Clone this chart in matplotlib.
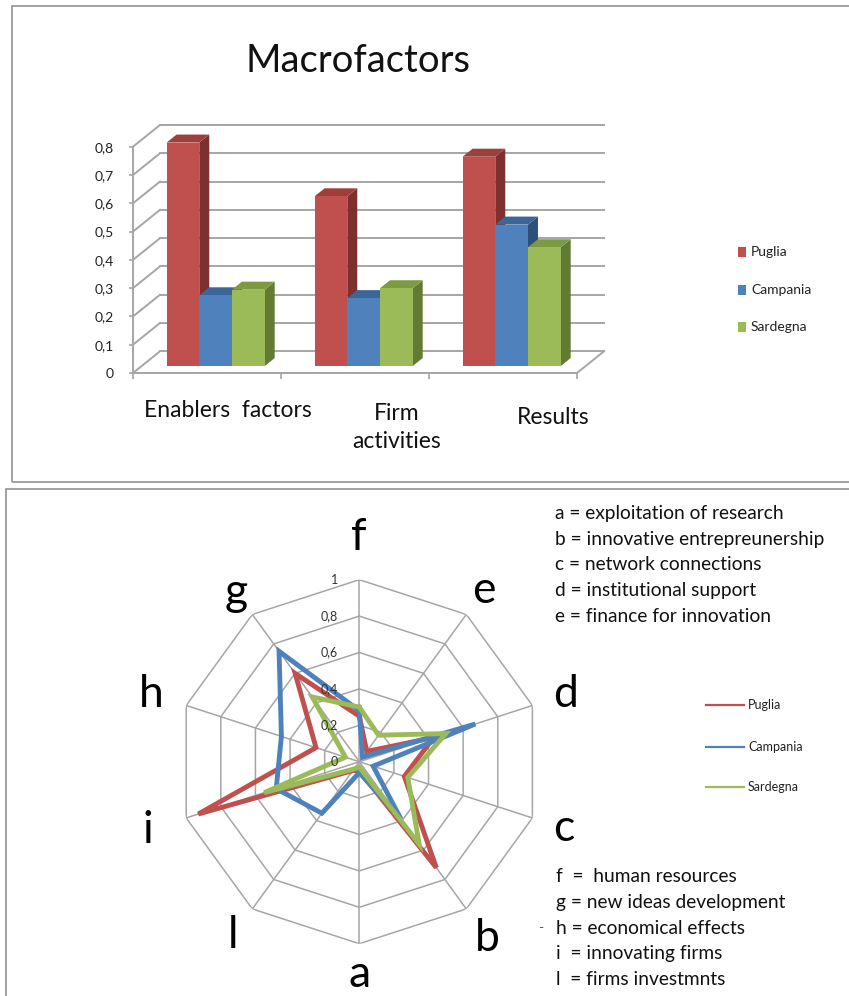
import numpy as np
import matplotlib.pyplot as plt
from matplotlib.patches import Polygon, Rectangle

plt.rcParams['font.family'] = ['Lato', 'DejaVu Sans']

W, H = 849, 996

# bar chart data
groups = ['Enablers  factors', 'Firm\nactivities', 'Results']
group_label_x = [0.64, 1.78, 2.84]
group_label_y = [-0.095, -0.105, -0.12]
regions = ['Puglia', 'Campania', 'Sardegna']
puglia_bar = [0.79, 0.60, 0.74]
campania_bar = [0.25, 0.24, 0.50]
sardegna_bar = [0.27, 0.275, 0.42]
bar_ticks = [0, 0.1, 0.2, 0.3, 0.4, 0.5, 0.6, 0.7, 0.8]
bar_tick_labels = ['0', '0,1', '0,2', '0,3', '0,4', '0,5', '0,6', '0,7', '0,8']

# radar data (clockwise from top)
spokes = ['f', 'e', 'd', 'c', 'b', 'a', 'l', 'i', 'h', 'g']
puglia_radar = [0.25, 0.07, 0.43, 0.26, 0.72, 0.05, 0.06, 0.93, 0.25, 0.60]
campania_radar = [0.28, 0.03, 0.67, 0.08, 0.39, 0.06, 0.35, 0.48, 0.45, 0.75]
sardegna_radar = [0.30, 0.18, 0.50, 0.28, 0.56, 0.03, 0.05, 0.55, 0.08, 0.44]
rings = [0.2, 0.4, 0.6, 0.8, 1.0]
ring_labels = ['0', '0,2', '0,4', '0,6', '0,8', '1']

notes_top = ['a = exploitation of research', 'b = innovative entrepreunership',
             'c = network connections', 'd = institutional support',
             'e = finance for innovation']
notes_bottom = ['f  =  human resources', 'g = new ideas development',
                'h = economical effects', 'i  = innovating firms',
                'l  = firms investmnts']

front = ['#C0504D', '#4F81BD', '#9BBB59']
side = ['#7D302E', '#2E4F78', '#627A34']
top = ['#9E3F3C', '#3C6699', '#7C9A42']
grid_c = '#A6A6A6'


def fx(x):
    return x / W


def fy(y):
    return 1 - y / H


fig = plt.figure(figsize=(W / 100, H / 100), dpi=100)

# panel frames
fig.add_artist(Rectangle((fx(12), fy(482)), 1, fy(6) - fy(482), transform=fig.transFigure,
                         fill=False, ec='#9A9A9A', lw=1.3))
fig.add_artist(Rectangle((fx(6), fy(1000)), 1, fy(489) - fy(1000), transform=fig.transFigure,
                         fill=False, ec='#9A9A9A', lw=1.3))

# ---------------- bar chart ----------------
ax = fig.add_axes([fx(133), fy(373), fx(577) - fx(133), fy(146.7) - fy(373)])
ax.set_xlim(0, 3)
ax.set_ylim(0, 0.8)
DX, DY = 0.1824, 0.0767   # full depth of the floor in data units
t0, t1 = 0.32, 0.69       # bar depth range
w = 0.221

for v in bar_ticks:
    ax.plot([DX, 3 + DX], [v + DY, v + DY], color=grid_c, lw=1.4, clip_on=False, zorder=1)
    ax.plot([0, DX], [v, v + DY], color=grid_c, lw=1.4, clip_on=False, zorder=1)
ax.plot([3, 3 + DX], [0, DY], color=grid_c, lw=1.4, clip_on=False, zorder=1)

series = [puglia_bar, campania_bar, sardegna_bar]
b = t0 * DY
ddx, ddy = (t1 - t0) * DX, (t1 - t0) * DY
z = 2
for i in range(len(groups)):
    for j, vals in enumerate(series):
        v = vals[i]
        xl = i + 0.5 - 1.5 * w + j * w + t0 * DX
        xr = xl + w
        ax.add_patch(Polygon([(xr, b), (xr + ddx, b + ddy), (xr + ddx, v + b + ddy), (xr, v + b)],
                             closed=True, fc=side[j], ec='none', zorder=z, clip_on=False))
        ax.add_patch(Polygon([(xl, v + b), (xr, v + b), (xr + ddx, v + b + ddy), (xl + ddx, v + b + ddy)],
                             closed=True, fc=top[j], ec='none', zorder=z, clip_on=False))
        ax.bar(xl, v, width=w, bottom=b, align='edge', color=front[j], zorder=z + 1, clip_on=False,
               label=regions[j] if i == 0 else None)
        z += 2

for s in ['top', 'right']:
    ax.spines[s].set_visible(False)
ax.spines['left'].set_color(grid_c)
ax.spines['bottom'].set_color(grid_c)
ax.spines['left'].set_linewidth(1.4)
ax.spines['bottom'].set_linewidth(1.4)
ax.set_yticks(bar_ticks)
ax.set_yticklabels(bar_tick_labels, fontsize=10, color='#222222')
ax.set_xticks([0, 1, 2, 3])
ax.set_xticklabels([])
ax.tick_params(axis='y', length=3, color=grid_c, width=1.2, pad=11)
ax.tick_params(axis='x', length=4, color=grid_c, width=1.2)
ax.patch.set_visible(False)

for lab, lx, ly in zip(groups, group_label_x, group_label_y):
    ax.text(lx, ly, lab, ha='center', va='top', fontsize=16.5, linespacing=1.45,
            color='#111111', clip_on=False)

fig.text(fx(358), fy(61), 'Macrofactors', ha='center', va='center', fontsize=27.5, color='#111111')

leg_y = [252, 290, 327]
for j, name in enumerate(regions):
    fig.add_artist(Rectangle((fx(738), fy(leg_y[j] + 5)), fx(8), fy(leg_y[j] - 5) - fy(leg_y[j] + 5),
                             transform=fig.transFigure, fc=front[j], ec='none'))
    fig.text(fx(751), fy(leg_y[j]), name, ha='left', va='center', fontsize=10, color='#222222')

# ---------------- radar chart ----------------
cx, cy, R = 359.3, 761.7, 182
axr = fig.add_axes([fx(cx - R), fy(cy + R), fx(2 * R), (2 * R) / H], projection='polar')
axr.set_theta_zero_location('N')
axr.set_theta_direction(-1)
axr.set_ylim(0, 1)
axr.grid(False)
axr.set_xticks([])
axr.set_yticks([])
axr.spines['polar'].set_visible(False)
axr.patch.set_visible(False)

ang = np.deg2rad(np.arange(len(spokes)) * 360 / len(spokes))
ang_c = np.append(ang, ang[0])
for r in rings:
    axr.plot(ang_c, [r] * len(ang_c), color=grid_c, lw=1.1, zorder=1)
for a in ang:
    axr.plot([a, a], [0, 1], color=grid_c, lw=1.1, zorder=1)

radar_series = [puglia_radar, campania_radar, sardegna_radar]
for j, vals in enumerate(radar_series):
    vc = np.append(vals, vals[0])
    axr.plot(ang_c, vc, color=front[j], lw=3.5, zorder=3 + j, solid_joinstyle='miter')

for k, lab in enumerate(ring_labels):
    r = k * 0.2
    fig.text(fx(338), fy(cy - r * R), lab, ha='right', va='center', fontsize=9, color='#333333')

letter_r = [1.23, 1.16, 1.19, 1.18, 1.2, 1.17, 1.18, 1.22, 1.2, 1.15]
for a, lab, lr in zip(ang, spokes, letter_r):
    axr.text(a, lr, lab, ha='center', va='center', fontsize=32, color='#000000')

rleg_y = [705, 747, 787]
for j, name in enumerate(regions):
    fig.add_artist(plt.Line2D([fx(706), fx(744)], [fy(rleg_y[j]), fy(rleg_y[j])],
                              transform=fig.transFigure, color=front[j], lw=1.6))
    fig.text(fx(748), fy(rleg_y[j]), name, ha='left', va='center', fontsize=9, color='#222222')

for k, t in enumerate(notes_top):
    fig.text(fx(555), fy(514 + k * 25.5), t, ha='left', va='center', fontsize=13.8, color='#111111')
for k, t in enumerate(notes_bottom):
    fig.text(fx(556), fy(877 + k * 25.5), t, ha='left', va='center', fontsize=13.8, color='#111111')
fig.text(fx(538), fy(928), '-', ha='left', va='center', fontsize=10, color='#555555')

fig.savefig('out.png', dpi=100)
